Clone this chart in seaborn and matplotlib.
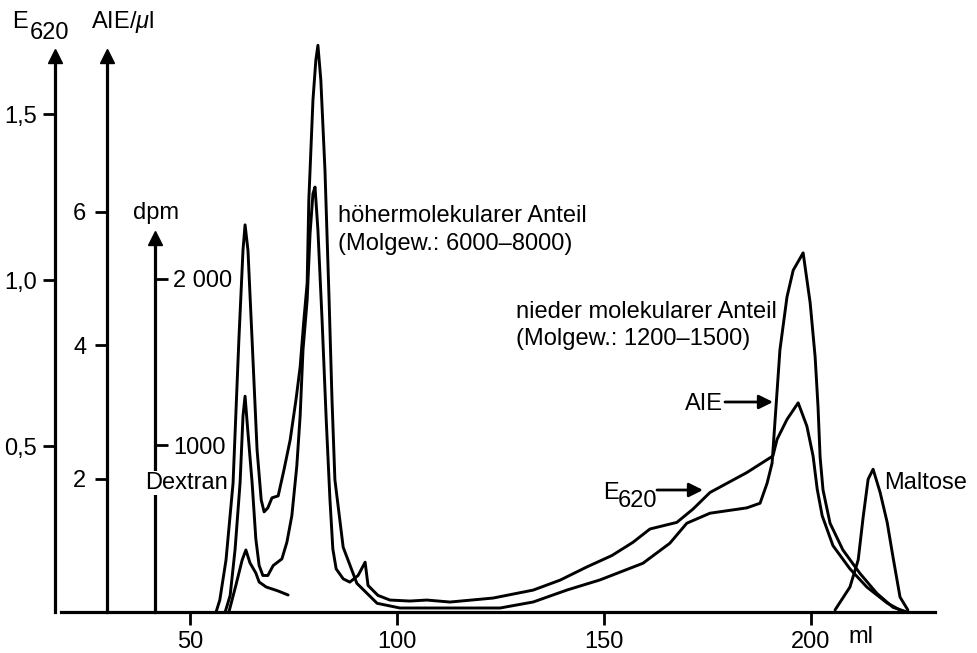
import matplotlib
matplotlib.use("Agg")
import matplotlib.pyplot as plt
import pandas as pd
import seaborn as sns

# ---------------- data ----------------
aie_ml = [56.3, 57.2, 58.7, 60.4, 61.8, 62.8, 63.3, 64.0, 65.0, 66.2, 67.2, 67.9, 68.8,
          69.8, 71.3, 72.7, 74.2, 75.6, 76.6, 77.5, 78.3, 78.7, 79.7, 80.4, 80.9, 81.6,
          82.6, 83.6, 84.3, 85.0, 87.0, 90.3, 95.2, 100.7, 124.9, 132.9, 141.1, 149.0,
          159.4, 165.9, 170.0, 175.6, 184.5, 187.7, 189.4, 190.6, 192.5, 194.2, 195.7,
          198.1, 199.8, 201.0, 201.7, 202.2, 202.9, 204.6, 207.7, 211.8, 215.9, 219.8, 223.2]
aie_val = [0.0, 0.18, 0.78, 1.93, 4.07, 5.42, 5.80, 5.42, 4.07, 2.43, 1.68, 1.50, 1.56,
           1.71, 1.74, 2.13, 2.58, 3.18, 3.67, 4.37, 4.93, 6.17, 7.67, 8.27, 8.49, 7.97,
           6.62, 4.67, 3.18, 1.98, 0.97, 0.43, 0.13, 0.06, 0.06, 0.15, 0.33, 0.48,
           0.73, 1.03, 1.33, 1.48, 1.56, 1.63, 1.93, 2.23, 3.93, 4.72, 5.12,
           5.38, 4.63, 3.82, 3.07, 2.32, 1.83, 1.33, 0.93, 0.58, 0.28, 0.07, 0.0]

e620_ml = [58.5, 59.7, 60.9, 62.1, 62.8, 63.3, 64.0, 65.0, 65.9, 66.7, 67.6, 68.8, 70.1,
           72.2, 73.4, 74.6, 75.8, 76.6, 77.3, 78.3, 79.0, 79.7, 80.2, 80.9, 81.9, 82.9,
           83.8, 84.5, 85.3, 87.0, 88.6, 90.6, 92.3, 93.0, 95.4, 98.3, 103.1, 107.2,
           112.8, 123.2, 132.9, 139.4, 145.9, 151.9, 157.0, 161.1, 167.6, 171.5, 175.6,
           184.5, 190.8, 191.8, 194.2, 196.9, 199.0, 200.5, 201.5, 202.7, 205.3, 209.4,
           213.5, 218.4, 221.5]
e620_val = [0.0, 0.05, 0.19, 0.39, 0.59, 0.65, 0.54, 0.39, 0.22, 0.14, 0.11, 0.11, 0.14,
            0.16, 0.21, 0.29, 0.44, 0.59, 0.79, 0.94, 1.14, 1.26, 1.28, 1.15, 0.88, 0.58,
            0.34, 0.19, 0.13, 0.10, 0.09, 0.11, 0.15, 0.08, 0.05, 0.036, 0.033, 0.036,
            0.03, 0.042, 0.066, 0.096, 0.136, 0.17, 0.21, 0.25, 0.27, 0.31, 0.36,
            0.42, 0.47, 0.52, 0.58, 0.63, 0.56, 0.47, 0.37, 0.29, 0.20, 0.13,
            0.075, 0.027, 0.006]

dpm_ml = [59.4, 61.1, 62.6, 63.5, 64.5, 65.9, 66.7, 68.4, 71.3, 73.7]
dpm_val = [0, 162, 312, 372, 294, 234, 180, 150, 126, 102]

maltose_ml = [205.8, 209.4, 211.4, 212.6, 213.8, 215.0, 216.7, 218.4, 219.8, 221.5, 223.4]
maltose_val = [0.006, 0.075, 0.157, 0.286, 0.40, 0.43, 0.36, 0.27, 0.166, 0.045, 0.006]

x_ticks = [50, 100, 150, 200]
x_ticklabels = ["50", "100", "150", "200"]
e620_ticks = [0.5, 1.0, 1.5]
e620_ticklabels = ["0,5", "1,0", "1,5"]
aie_ticks = [2, 4, 6]
aie_ticklabels = ["2", "4", "6"]
dpm_ticks = [1000, 2000]
dpm_ticklabels = ["1000", "2 000"]

# ---------------- style ----------------
sns.set_theme(style="white")
plt.rcParams["font.family"] = ["Liberation Sans", "DejaVu Sans"]
plt.rcParams["font.size"] = 17
plt.rcParams["text.color"] = "black"
plt.rcParams["axes.labelcolor"] = "black"
plt.rcParams["xtick.color"] = "black"
plt.rcParams["ytick.color"] = "black"
plt.rcParams["mathtext.fontset"] = "custom"
plt.rcParams["mathtext.rm"] = "Liberation Sans"
plt.rcParams["mathtext.it"] = "Liberation Sans:italic"

W, H = 977, 653
fig = plt.figure(figsize=(W / 100, H / 100), dpi=100)
fig.patch.set_facecolor("white")


def fx(px):
    return px / W


def fy(py):
    return 1 - py / H


X0, X1, Y0, Y1 = 55, 935, 612, 35
ax = fig.add_axes([fx(X0), fy(Y0), (X1 - X0) / W, (Y0 - Y1) / H])
ax.patch.set_visible(False)

PX_ML = 4.14
xmin = 50 + (X0 - 190) / PX_ML
xmax = 50 + (X1 - 190) / PX_ML
E_PX, A_PX, D_PX = 332.0, 66.75, 1 / 6.0
ax.set_xlim(xmin, xmax)
ax.set_ylim(0, (Y0 - Y1) / E_PX)

ax2 = ax.twinx()
ax2.set_ylim(0, (Y0 - Y1) / A_PX)
ax3 = ax.twinx()
ax3.set_ylim(0, (Y0 - Y1) / D_PX)

LW = 2.1
kw = dict(color="black", linewidth=LW, estimator=None, sort=False, legend=False)
sns.lineplot(data=pd.DataFrame({"ml": e620_ml, "v": e620_val}), x="ml", y="v", ax=ax, **kw)
sns.lineplot(data=pd.DataFrame({"ml": maltose_ml, "v": maltose_val}), x="ml", y="v", ax=ax, **kw)
sns.lineplot(data=pd.DataFrame({"ml": aie_ml, "v": aie_val}), x="ml", y="v", ax=ax2, **kw)
sns.lineplot(data=pd.DataFrame({"ml": dpm_ml, "v": dpm_val}), x="ml", y="v", ax=ax3, **kw)

for a in (ax, ax2, ax3):
    a.set_xlabel("")
    a.set_ylabel("")
    a.grid(False)
    for s in a.spines.values():
        s.set_visible(False)
        s.set_color("black")
        s.set_linewidth(2.3)
ax.set_xlim(xmin, xmax)

# x axis
ax.spines["bottom"].set_visible(True)
ax.spines["bottom"].set_bounds(50 + (61 - 190) / PX_ML, xmax)
ax.set_xticks(x_ticks)
ax.set_xticklabels(x_ticklabels)
ax.tick_params(axis="x", direction="out", length=9, width=2, color="black",
               labelcolor="black", pad=5, labelsize=17, bottom=True)

# E620 axis
E_AX_TOP = (Y0 - 62) / E_PX
ax.spines["left"].set_visible(True)
ax.spines["left"].set_bounds(0, E_AX_TOP)
ax.set_yticks(e620_ticks)
ax.set_yticklabels(e620_ticklabels)
ax.tick_params(axis="y", direction="out", length=9, width=2, color="black",
               labelcolor="black", pad=4, labelsize=17, left=True)

# AIE axis
AIE_X = 50 + (107 - 190) / PX_ML
ax2.spines["left"].set_visible(True)
ax2.spines["left"].set_position(("data", AIE_X))
ax2.spines["left"].set_bounds(0, (Y0 - 62) / A_PX)
ax2.yaxis.set_ticks_position("left")
ax2.set_yticks(aie_ticks)
ax2.set_yticklabels(aie_ticklabels)
ax2.tick_params(axis="y", direction="out", length=9, width=2, color="black",
                labelcolor="black", pad=6, labelsize=17, left=True, right=False,
                labelleft=True, labelright=False)

# dpm axis
DPM_X = 50 + (155 - 190) / PX_ML
ax3.spines["right"].set_visible(True)
ax3.spines["right"].set_position(("data", DPM_X))
ax3.spines["right"].set_bounds(0, (Y0 - 244) / D_PX)
ax3.yaxis.set_ticks_position("right")
ax3.set_yticks(dpm_ticks)
ax3.set_yticklabels(dpm_ticklabels)
ax3.tick_params(axis="y", direction="out", length=9, width=2, color="black",
                labelcolor="black", pad=4, labelsize=17, right=True, left=False,
                labelright=True, labelleft=False)

# axis arrowheads
ax.plot([xmin, AIE_X], [(Y0 - 56) / E_PX] * 2, linestyle="none", marker="^",
        markersize=10, color="black", clip_on=False, zorder=5)
ax.plot([DPM_X], [(Y0 - 238) / E_PX], linestyle="none", marker="^",
        markersize=10, color="black", clip_on=False, zorder=5)

# axis titles
fig.text(fx(12), fy(28), "E", fontsize=17, va="baseline")
fig.text(fx(30), fy(39), "620", fontsize=17, va="baseline")
fig.text(fx(91), fy(28), "AIE/$\\mathit{\\mu}$l", fontsize=17, va="baseline")
fig.text(fx(133), fy(219), "dpm", fontsize=17, va="baseline")
fig.text(fx(145), fy(489), "Dextran", fontsize=17, va="baseline", zorder=10,
         bbox=dict(facecolor="white", edgecolor="none", pad=0.5))
fig.text(fx(848), fy(643), "ml", fontsize=17, va="baseline")

# annotations
fig.text(fx(338), fy(222), "höhermolekularer Anteil", fontsize=17, va="baseline")
fig.text(fx(338), fy(250), "(Molgew.: 6000–8000)", fontsize=17, va="baseline")
fig.text(fx(516), fy(318), "nieder molekularer Anteil", fontsize=17, va="baseline")
fig.text(fx(516), fy(345), "(Molgew.: 1200–1500)", fontsize=17, va="baseline")
fig.text(fx(685), fy(410), "AIE", fontsize=17, va="baseline")
fig.text(fx(603), fy(499), "E", fontsize=17, va="baseline")
fig.text(fx(618), fy(507), "620", fontsize=17, va="baseline")
fig.text(fx(884), fy(489), "Maltose", fontsize=17, va="baseline")

arrow_kw = dict(arrowstyle="-|>", color="black", lw=2, mutation_scale=21,
                shrinkA=0, shrinkB=0)
ax.annotate("", xy=(773, H - 402), xytext=(725, H - 402),
            xycoords="figure pixels", textcoords="figure pixels", arrowprops=arrow_kw)
ax.annotate("", xy=(703, H - 490), xytext=(657, H - 490),
            xycoords="figure pixels", textcoords="figure pixels", arrowprops=arrow_kw)

fig.savefig("out.png", dpi=100, facecolor="white")
